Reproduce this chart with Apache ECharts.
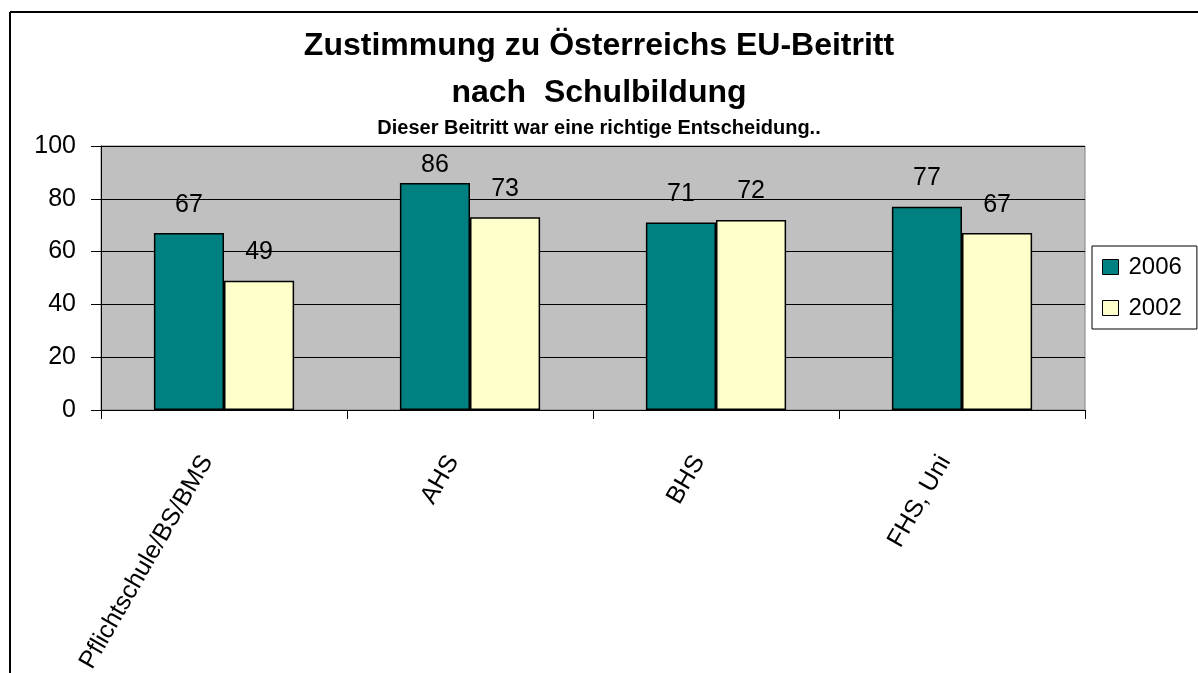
<!DOCTYPE html>
<html><head><meta charset="utf-8">
<script src="https://cdn.jsdelivr.net/npm/echarts@6/dist/echarts.min.js"></script>
<style>html,body{margin:0;padding:0;background:#fff}#c{width:1198px;height:673px}</style>
</head><body><div id="c"></div>
<script>
const categories = ['Pflichtschule/BS/BMS', 'AHS', 'BHS', 'FHS, Uni'];
const values2006 = [67, 86, 71, 77];
const values2002 = [49, 73, 72, 67];
const seriesNames = ['2006', '2002'];
const yTicks = [0, 20, 40, 60, 80, 100];

const font = '"Liberation Sans", Arial, sans-serif';
const gridTop = 146, gridBottom = 263, chartH = 673;
const plotH = chartH - gridTop - gridBottom;
const yMax = yTicks[yTicks.length - 1];
// Keep value labels inside the plot area (as the original chart software does)
function withLabels(values) {
  return values.map(v => {
    const room = (yMax - v) / yMax * plotH - 25 - 7;
    return {value: v, label: {distance: Math.max(4, Math.min(16, room))}};
  });
}
const chart = echarts.init(document.getElementById('c'), null, {renderer: 'canvas'});
const labelCfg = {show: true, position: 'top', distance: 16, color: '#000', fontSize: 25, fontFamily: font};
chart.setOption({
  animation: false,
  title: [
    {text: 'Zustimmung zu Österreichs EU-Beitritt', left: 'center', top: 25,
     textStyle: {fontFamily: font, fontSize: 32, fontWeight: 'bold', color: '#000'}},
    {text: 'nach  Schulbildung', left: 'center', top: 72,
     textStyle: {fontFamily: font, fontSize: 32, fontWeight: 'bold', color: '#000'}},
    {text: 'Dieser Beitritt war eine richtige Entscheidung..', left: 'center', top: 113,
     textStyle: {fontFamily: font, fontSize: 20, fontWeight: 'bold', color: '#000'}}
  ],
  graphic: [
    {type: 'line', shape: {x1: 10, y1: 12, x2: 10, y2: 673}, style: {stroke: '#000', lineWidth: 2}},
    {type: 'line', shape: {x1: 10, y1: 12, x2: 1198, y2: 12}, style: {stroke: '#000', lineWidth: 2}}
  ],
  legend: {
    orient: 'vertical', left: 1092, top: 246,
    data: seriesNames,
    backgroundColor: '#fff', borderColor: '#000', borderWidth: 1,
    padding: [9, 15, 9, 10], itemGap: 17,
    itemWidth: 16, itemHeight: 15, icon: 'rect',
    itemStyle: {borderColor: '#000', borderWidth: 1},
    textStyle: {fontFamily: font, fontSize: 24, color: '#000', padding: [0, 0, 0, 5]}
  },
  grid: {left: 101, right: 113, top: gridTop, bottom: gridBottom, show: true,
         outerBoundsMode: 'none', containLabel: false,
         backgroundColor: '#C0C0C0', borderColor: '#808080', borderWidth: 1},
  xAxis: {
    type: 'category', data: categories,
    axisLine: {lineStyle: {color: '#000', width: 1}},
    axisTick: {show: true, alignWithLabel: false, length: 9, lineStyle: {color: '#000'}},
    axisLabel: {rotate: 60, fontFamily: font, fontSize: 25, color: '#000', margin: 18,
                padding: [0, 34, 0, 0]}
  },
  yAxis: {
    type: 'value', min: yTicks[0], max: yMax, interval: 20,
    axisLine: {show: true, lineStyle: {color: '#000', width: 1}},
    axisTick: {show: true, length: 10, lineStyle: {color: '#000'}},
    splitLine: {show: true, lineStyle: {color: '#000', width: 1}},
    axisLabel: {fontFamily: font, fontSize: 25, color: '#000', margin: 25}
  },
  series: [
    {name: seriesNames[0], type: 'bar', data: withLabels(values2006), barGap: '0%', barCategoryGap: '43%',
     itemStyle: {color: '#008080', borderColor: '#000', borderWidth: 1.5}, label: labelCfg},
    {name: seriesNames[1], type: 'bar', data: withLabels(values2002), barGap: '0%', barCategoryGap: '43%',
     itemStyle: {color: '#FFFFCC', borderColor: '#000', borderWidth: 1.5}, label: labelCfg}
  ]
});
</script></body></html>
